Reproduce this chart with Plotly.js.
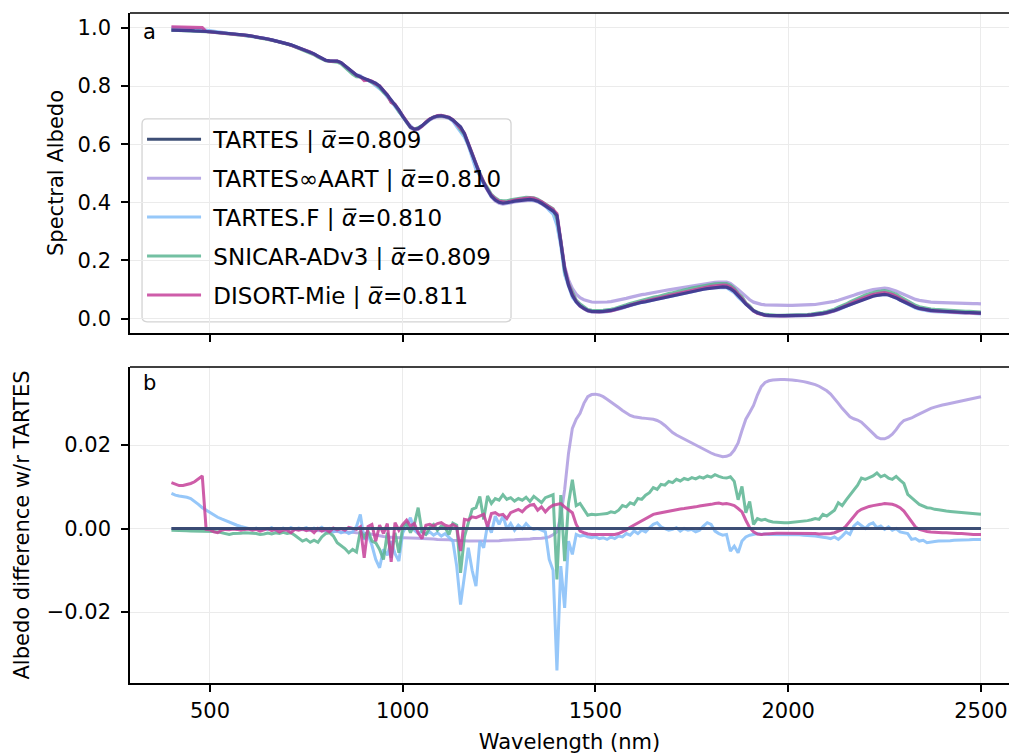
<!DOCTYPE html>
<html>
<head>
<meta charset="utf-8">
<script src="https://cdn.plot.ly/plotly-3.0.1.min.js"></script>
<style>html,body{margin:0;padding:0;background:#fff;}#chart{width:1009px;height:755px;}</style>
</head>
<body>
<div id="chart"></div>
<script>
// Wavelength grid (nm)
var wavelength = [
400,410,420,430,440,450,460,470,480,490,
500,510,520,530,540,550,560,570,580,590,
600,610,620,630,640,650,660,670,680,690,
700,710,720,730,740,750,760,770,780,790,
800,810,820,830,840,850,860,870,880,890,
900,910,920,930,940,950,960,970,980,990,
1000,1010,1020,1030,1040,1050,1060,1070,1080,1090,
1100,1110,1120,1130,1140,1150,1160,1170,1180,1190,
1200,1210,1220,1230,1240,1250,1260,1270,1280,1290,
1300,1310,1320,1330,1340,1350,1360,1370,1380,1390,
1400,1410,1420,1430,1440,1450,1460,1470,1480,1490,
1500,1510,1520,1530,1540,1550,1560,1570,1580,1590,
1600,1610,1620,1630,1640,1650,1660,1670,1680,1690,
1700,1710,1720,1730,1740,1750,1760,1770,1780,1790,
1800,1810,1820,1830,1840,1850,1860,1870,1880,1890,
1900,1910,1920,1930,1940,1950,1960,1970,1980,1990,
2000,2010,2020,2030,2040,2050,2060,2070,2080,2090,
2100,2110,2120,2130,2140,2150,2160,2170,2180,2190,
2200,2210,2220,2230,2240,2250,2260,2270,2280,2290,
2300,2310,2320,2330,2340,2350,2360,2370,2380,2390,
2400,2410,2420,2430,2440,2450,2460,2470,2480,2490,
2500];

// TARTES spectral albedo
var albedoTARTES = [
0.993,0.993,0.992,0.992,0.991,0.991,0.990,0.990,0.989,0.988,
0.987,0.986,0.985,0.984,0.983,0.982,0.980,0.979,0.977,0.976,
0.974,0.972,0.970,0.967,0.965,0.962,0.959,0.956,0.953,0.950,
0.946,0.942,0.937,0.932,0.927,0.923,0.918,0.911,0.903,0.895,
0.889,0.887,0.887,0.886,0.881,0.870,0.857,0.846,0.838,0.832,
0.826,0.821,0.816,0.810,0.800,0.786,0.769,0.752,0.736,0.718,
0.696,0.675,0.659,0.651,0.654,0.664,0.676,0.686,0.693,0.697,
0.698,0.696,0.692,0.683,0.670,0.660,0.636,0.601,0.563,0.527,
0.496,0.467,0.442,0.421,0.408,0.400,0.397,0.398,0.401,0.404,
0.406,0.408,0.410,0.410,0.408,0.404,0.397,0.389,0.380,0.370,
0.355,0.260,0.170,0.115,0.080,0.058,0.044,0.035,0.028,0.025,
0.024,0.024,0.025,0.026,0.028,0.031,0.034,0.038,0.042,0.046,
0.050,0.053,0.056,0.058,0.061,0.063,0.066,0.069,0.072,0.075,
0.078,0.081,0.084,0.087,0.090,0.093,0.096,0.099,0.101,0.103,
0.105,0.107,0.108,0.109,0.108,0.103,0.093,0.080,0.065,0.050,
0.037,0.027,0.020,0.015,0.012,0.011,0.010,0.010,0.010,0.010,
0.010,0.010,0.010,0.011,0.011,0.012,0.013,0.014,0.016,0.018,
0.021,0.024,0.028,0.033,0.038,0.043,0.049,0.054,0.059,0.064,
0.069,0.073,0.077,0.080,0.082,0.083,0.081,0.077,0.071,0.064,
0.057,0.050,0.044,0.039,0.035,0.032,0.030,0.028,0.027,0.026,
0.025,0.024,0.023,0.023,0.022,0.022,0.021,0.021,0.020,0.020,
0.019];

// Differences with respect to TARTES
var diffAART = [
0.0000,0.0000,0.0000,0.0000,0.0000,0.0000,0.0000,0.0000,0.0000,0.0000,
0.0000,0.0000,0.0000,0.0000,0.0000,0.0000,0.0000,0.0000,0.0000,0.0000,
0.0000,0.0000,0.0000,0.0000,0.0000,0.0000,0.0000,0.0000,0.0000,-0.0001,
-0.0001,-0.0001,-0.0002,-0.0002,-0.0003,-0.0003,-0.0004,-0.0004,-0.0005,-0.0005,
-0.0006,-0.0006,-0.0007,-0.0007,-0.0008,-0.0008,-0.0009,-0.0009,-0.0010,-0.0010,
-0.0011,-0.0012,-0.0014,-0.0016,-0.0018,-0.0019,-0.0020,-0.0021,-0.0021,-0.0022,
-0.0022,-0.0022,-0.0022,-0.0023,-0.0023,-0.0024,-0.0024,-0.0025,-0.0025,-0.0026,
-0.0026,-0.0027,-0.0027,-0.0028,-0.0028,-0.0029,-0.0029,-0.0030,-0.0030,-0.0030,
-0.0030,-0.0030,-0.0030,-0.0029,-0.0029,-0.0029,-0.0028,-0.0028,-0.0027,-0.0027,
-0.0026,-0.0026,-0.0025,-0.0025,-0.0024,-0.0024,-0.0023,-0.0022,-0.0020,-0.0015,
-0.0008,0.0030,0.0093,0.0180,0.0240,0.0262,0.0276,0.0300,0.0316,0.0321,
0.0322,0.0320,0.0316,0.0310,0.0304,0.0297,0.0290,0.0283,0.0276,0.0271,
0.0268,0.0266,0.0265,0.0264,0.0263,0.0262,0.0259,0.0254,0.0247,0.0238,
0.0230,0.0224,0.0219,0.0215,0.0210,0.0205,0.0200,0.0196,0.0191,0.0186,
0.0181,0.0177,0.0174,0.0172,0.0173,0.0177,0.0188,0.0205,0.0235,0.0262,
0.0278,0.0295,0.0320,0.0340,0.0350,0.0354,0.0356,0.0357,0.0357,0.0357,
0.0357,0.0356,0.0355,0.0354,0.0352,0.0350,0.0348,0.0345,0.0341,0.0336,
0.0330,0.0322,0.0312,0.0300,0.0288,0.0277,0.0268,0.0263,0.0260,0.0255,
0.0247,0.0237,0.0228,0.0219,0.0215,0.0215,0.0219,0.0226,0.0237,0.0250,
0.0259,0.0262,0.0265,0.0270,0.0275,0.0280,0.0284,0.0288,0.0291,0.0294,
0.0296,0.0298,0.0300,0.0302,0.0304,0.0306,0.0308,0.0310,0.0312,0.0314,
0.0316];

var diffTARTESF = [
0.0084,0.0080,0.0078,0.0077,0.0075,0.0072,0.0066,0.0058,0.0050,0.0044,
0.0038,0.0032,0.0027,0.0023,0.0019,0.0015,0.0011,0.0008,0.0005,0.0002,
0.0000,-0.0002,0.0001,-0.0003,0.0000,-0.0002,0.0002,-0.0004,-0.0001,0.0001,
-0.0003,0.0002,-0.0002,0.0001,-0.0001,0.0002,-0.0003,0.0001,-0.0002,0.0003,
-0.0004,0.0000,-0.0008,-0.0004,-0.0010,-0.0006,-0.0012,-0.0008,0.0005,0.0034,
-0.0026,-0.0015,-0.0040,-0.0074,-0.0094,-0.0050,-0.0064,-0.0030,-0.0060,-0.0078,
-0.0010,0.0010,0.0026,-0.0004,-0.0012,-0.0006,-0.0014,-0.0008,-0.0016,-0.0010,
-0.0018,-0.0012,-0.0020,-0.0030,-0.0090,-0.0182,-0.0114,-0.0046,-0.0100,-0.0138,
-0.0030,-0.0046,0.0010,-0.0010,0.0030,0.0010,0.0030,0.0000,0.0012,-0.0004,
0.0008,0.0000,0.0012,0.0002,-0.0002,0.0000,-0.0004,-0.0008,-0.0074,-0.0100,
-0.0340,-0.0090,-0.0190,-0.0030,-0.0062,-0.0014,-0.0018,-0.0016,-0.0020,-0.0022,
-0.0020,-0.0024,-0.0022,-0.0026,-0.0020,-0.0024,-0.0018,-0.0020,-0.0012,-0.0016,
-0.0006,-0.0012,-0.0004,-0.0008,0.0002,0.0010,0.0014,0.0004,0.0000,-0.0004,
-0.0002,0.0002,-0.0006,0.0000,-0.0004,-0.0002,-0.0008,-0.0004,0.0006,0.0014,
0.0010,-0.0006,-0.0012,-0.0016,-0.0014,-0.0054,-0.0042,-0.0058,-0.0030,-0.0020,
-0.0016,-0.0014,-0.0012,-0.0014,-0.0013,-0.0014,-0.0014,-0.0014,-0.0014,-0.0014,
-0.0014,-0.0015,-0.0015,-0.0015,-0.0016,-0.0016,-0.0017,-0.0018,-0.0020,-0.0021,
-0.0022,-0.0024,-0.0020,-0.0026,-0.0018,-0.0008,-0.0014,0.0006,0.0014,0.0006,
0.0000,0.0010,0.0014,0.0002,0.0006,-0.0002,0.0004,-0.0004,0.0000,-0.0008,
-0.0010,-0.0012,-0.0026,-0.0024,-0.0030,-0.0028,-0.0034,-0.0032,-0.0031,-0.0030,
-0.0030,-0.0029,-0.0029,-0.0028,-0.0028,-0.0028,-0.0027,-0.0027,-0.0026,-0.0026,
-0.0026];

var diffSNICAR = [
-0.0004,-0.0004,-0.0005,-0.0005,-0.0005,-0.0006,-0.0006,-0.0006,-0.0006,-0.0006,
-0.0006,-0.0007,-0.0008,-0.0010,-0.0013,-0.0014,-0.0012,-0.0012,-0.0011,-0.0010,
-0.0010,-0.0011,-0.0012,-0.0014,-0.0013,-0.0011,-0.0013,-0.0010,-0.0012,-0.0009,
-0.0012,-0.0010,-0.0016,-0.0022,-0.0030,-0.0026,-0.0033,-0.0028,-0.0033,-0.0020,
-0.0012,-0.0010,-0.0018,-0.0034,-0.0040,-0.0048,-0.0058,-0.0050,-0.0056,-0.0006,
-0.0020,-0.0006,-0.0030,-0.0034,-0.0050,-0.0074,-0.0010,-0.0070,-0.0010,-0.0058,
0.0004,0.0013,-0.0010,0.0010,0.0050,-0.0008,-0.0014,0.0002,0.0010,-0.0004,
0.0006,0.0002,-0.0014,0.0013,0.0008,-0.0106,-0.0020,0.0014,0.0046,0.0050,
0.0077,0.0022,0.0078,0.0060,0.0072,0.0068,0.0081,0.0070,0.0074,0.0066,
0.0072,0.0068,0.0075,0.0065,0.0077,0.0070,0.0062,0.0074,0.0077,0.0081,
-0.0122,0.0080,-0.0078,0.0060,0.0117,0.0055,0.0060,0.0045,0.0032,0.0034,
0.0033,0.0034,0.0035,0.0036,0.0040,0.0038,0.0044,0.0055,0.0052,0.0062,
0.0058,0.0072,0.0070,0.0080,0.0086,0.0098,0.0094,0.0106,0.0104,0.0113,
0.0110,0.0118,0.0114,0.0120,0.0117,0.0122,0.0119,0.0124,0.0121,0.0126,
0.0123,0.0129,0.0125,0.0122,0.0121,0.0124,0.0113,0.0069,0.0101,0.0038,
0.0065,0.0010,0.0024,0.0020,0.0022,0.0018,0.0016,0.0015,0.0014,0.0014,
0.0014,0.0015,0.0015,0.0016,0.0017,0.0019,0.0021,0.0024,0.0022,0.0034,
0.0030,0.0038,0.0044,0.0062,0.0055,0.0068,0.0080,0.0092,0.0104,0.0121,
0.0118,0.0122,0.0126,0.0133,0.0124,0.0128,0.0121,0.0118,0.0125,0.0116,
0.0108,0.0082,0.0075,0.0066,0.0058,0.0053,0.0050,0.0049,0.0046,0.0045,
0.0043,0.0042,0.0041,0.0040,0.0039,0.0039,0.0038,0.0037,0.0036,0.0035,
0.0034];

var diffDISORT = [
0.0110,0.0106,0.0103,0.0103,0.0105,0.0108,0.0112,0.0118,0.0126,-0.0002,
-0.0003,-0.0008,-0.0010,-0.0004,-0.0002,-0.0003,-0.0001,-0.0002,-0.0004,-0.0002,
-0.0001,-0.0004,-0.0002,-0.0006,-0.0003,0.0000,-0.0005,-0.0002,-0.0008,-0.0003,
-0.0004,-0.0010,-0.0002,-0.0004,-0.0001,-0.0005,-0.0002,-0.0010,0.0000,-0.0006,
-0.0002,-0.0008,0.0001,-0.0003,0.0000,-0.0004,0.0003,0.0000,-0.0002,0.0004,
-0.0070,0.0005,0.0010,-0.0030,0.0008,-0.0012,0.0012,-0.0080,0.0014,-0.0004,
0.0010,0.0020,0.0006,0.0012,-0.0010,-0.0024,0.0008,0.0010,0.0006,0.0012,
0.0014,0.0008,0.0005,0.0010,0.0004,-0.0054,0.0022,0.0020,0.0028,0.0026,
0.0030,0.0034,0.0004,0.0036,0.0038,0.0032,0.0034,0.0024,0.0038,0.0042,
0.0046,0.0040,0.0050,0.0056,0.0058,0.0044,0.0052,0.0040,0.0050,0.0056,
0.0058,0.0060,0.0052,0.0046,0.0038,0.0010,-0.0006,-0.0010,-0.0013,-0.0014,
-0.0014,-0.0014,-0.0014,-0.0014,-0.0014,-0.0014,-0.0012,-0.0008,-0.0003,0.0003,
0.0008,0.0013,0.0018,0.0024,0.0030,0.0034,0.0036,0.0038,0.0040,0.0041,
0.0043,0.0045,0.0047,0.0048,0.0049,0.0051,0.0052,0.0054,0.0055,0.0057,
0.0058,0.0060,0.0061,0.0059,0.0060,0.0058,0.0055,0.0048,0.0040,0.0020,
0.0002,-0.0008,-0.0013,-0.0014,-0.0013,-0.0012,-0.0012,-0.0011,-0.0011,-0.0011,
-0.0011,-0.0011,-0.0011,-0.0011,-0.0012,-0.0012,-0.0012,-0.0012,-0.0013,-0.0013,
-0.0013,-0.0012,-0.0010,-0.0006,-0.0002,0.0006,0.0018,0.0030,0.0040,0.0046,
0.0050,0.0053,0.0055,0.0056,0.0058,0.0060,0.0059,0.0058,0.0055,0.0050,
0.0042,0.0030,0.0016,0.0004,-0.0002,-0.0005,-0.0007,-0.0008,-0.0009,-0.0009,
-0.0010,-0.0010,-0.0011,-0.0011,-0.0012,-0.0012,-0.0013,-0.0013,-0.0014,-0.0014,
-0.0014];

var modelNames = ['TARTES', 'TARTES\u221EAART', 'TARTES.F', 'SNICAR-ADv3', 'DISORT-Mie'];
var meanAlbedo = ['0.809', '0.810', '0.810', '0.809', '0.811'];
var modelColors = ['#34466f', '#ad9be0', '#84bef8', '#5bb592', '#c6419a'];
// colour of the TARTES curve as it appears in panel a (blended with the curves beneath)
var topColors = ['#463e92', '#ad9be0', '#84bef8', '#5bb592', '#c6419a'];

var diffs = [
  albedoTARTES.map(function(v){ return v - v; }),
  diffAART, diffTARTESF, diffSNICAR, diffDISORT
];

function label(i) {
  return '\u00A0' + modelNames[i] + ' | <i>\u03B1\u0305</i>=' + meanAlbedo[i];
}

var traces = [];
var drawOrder = [1, 2, 3, 4, 0];
drawOrder.forEach(function(i) {
  var alb = albedoTARTES.map(function(a, k){ return a + diffs[i][k]; });
  traces.push({
    x: wavelength, y: alb, type: 'scatter', mode: 'lines',
    name: label(i), legendgroup: 'g' + i,
    line: {color: topColors[i], width: 3.2}, opacity: i === 0 ? 1 : 0.85,
    xaxis: 'x', yaxis: 'y', showlegend: false
  });
});
drawOrder.forEach(function(i) {
  traces.push({
    x: wavelength, y: diffs[i], type: 'scatter', mode: 'lines',
    name: label(i), legendgroup: 'g' + i, legendrank: i + 1,
    line: {color: modelColors[i], width: 3}, opacity: i === 0 ? 0.95 : 0.85,
    xaxis: 'x2', yaxis: 'y2', showlegend: true
  });
});

var font = {family: 'DejaVu Sans, sans-serif', size: 21, color: '#000'};
var axBase = {
  showline: true, linecolor: '#000', linewidth: 1.6, mirror: false,
  ticks: 'outside', ticklen: 7, tickwidth: 1.6, tickcolor: '#000',
  showgrid: true, gridcolor: '#ebebeb', gridwidth: 1.2,
  zeroline: false, tickfont: font, ticklabelstandoff: 6
};
function ax(extra) { return Object.assign({}, axBase, extra); }

var layout = {
  width: 1009, height: 755,
  margin: {l: 130, r: 0, t: 13, b: 72},
  paper_bgcolor: '#fff', plot_bgcolor: '#fff',
  font: font,
  showlegend: true,
  legend: {
    x: 0.0137, y: 0.8435, xanchor: 'left', yanchor: 'top',
    bgcolor: 'rgba(255,255,255,0)', bordercolor: '#cccccc', borderwidth: 0,
    font: {family: 'DejaVu Sans, sans-serif', size: 23, color: '#000'},
    tracegroupgap: 6, itemwidth: 54, traceorder: 'grouped'
  },
  xaxis: ax({domain: [0, 1], range: [292.5, 2572.7], anchor: 'y', matches: 'x2',
    showticklabels: false, tickvals: [500, 1000, 1500, 2000, 2500]}),
  yaxis: ax({domain: [0.5224, 1], range: [-0.0496, 1.0516], anchor: 'x',
    tickvals: [0, 0.2, 0.4, 0.6, 0.8, 1.0], tickformat: '.1f',
    title: {text: 'Spectral Albedo', font: font, standoff: 8}}),
  xaxis2: ax({domain: [0, 1], range: [292.5, 2572.7], anchor: 'y2',
    tickvals: [500, 1000, 1500, 2000, 2500], ticklabelstandoff: 1,
    title: {text: 'Wavelength (nm)', font: font, standoff: 12}}),
  yaxis2: ax({domain: [0, 0.4716], range: [-0.037, 0.0387], anchor: 'x2',
    tickvals: [-0.02, 0, 0.02], tickformat: '.2f',
    title: {text: 'Albedo difference w/r TARTES', font: font, standoff: 11}}),
  shapes: [
    {type: 'line', xref: 'paper', yref: 'paper', x0: 0, x1: 1, y0: 1, y1: 1, line: {color: '#000', width: 1.6}},
    {type: 'line', xref: 'paper', yref: 'paper', x0: 0, x1: 1, y0: 0.4716, y1: 0.4716, line: {color: '#000', width: 1.6}}
  ],
  annotations: [
    {text: 'a', xref: 'paper', yref: 'y domain', x: 0.0125, y: 0.94, xanchor: 'left', yanchor: 'middle', showarrow: false, font: font},
    {text: 'b', xref: 'paper', yref: 'y2 domain', x: 0.0125, y: 0.948, xanchor: 'left', yanchor: 'middle', showarrow: false, font: font}
  ]
};

Plotly.newPlot('chart', traces, layout, {displayModeBar: false, responsive: false}).then(function(gd) {
  // Legend frame drawn beneath the curves (as in the original figure), sized from the rendered legend
  var bg = gd.querySelector('.legend .bg');
  var svg = gd.querySelector('.main-svg');
  if (!bg || !svg) return;
  var r = bg.getBoundingClientRect();
  var s = svg.getBoundingClientRect();
  var fl = gd._fullLayout;
  var xa = fl.xaxis, ya = fl.yaxis;
  var left = r.left - s.left, right = r.right - s.left + 4;
  var top = r.top - s.top + 1, bottom = r.bottom - s.top + 5;
  var rad = 5;
  function X(p) { return xa.p2d(p - xa._offset); }
  function Y(p) { return ya.p2d(p - ya._offset); }
  var path = 'M' + X(left + rad) + ',' + Y(top) +
    ' L' + X(right - rad) + ',' + Y(top) +
    ' Q' + X(right) + ',' + Y(top) + ' ' + X(right) + ',' + Y(top + rad) +
    ' L' + X(right) + ',' + Y(bottom - rad) +
    ' Q' + X(right) + ',' + Y(bottom) + ' ' + X(right - rad) + ',' + Y(bottom) +
    ' L' + X(left + rad) + ',' + Y(bottom) +
    ' Q' + X(left) + ',' + Y(bottom) + ' ' + X(left) + ',' + Y(bottom - rad) +
    ' L' + X(left) + ',' + Y(top + rad) +
    ' Q' + X(left) + ',' + Y(top) + ' ' + X(left + rad) + ',' + Y(top) + ' Z';
  var shapes = (gd.layout.shapes || []).slice();
  shapes.push({type: 'path', xref: 'x', yref: 'y', path: path, layer: 'below',
    fillcolor: 'rgba(255,255,255,0.8)', line: {color: '#d4d4d4', width: 1.3}});
  return Plotly.relayout(gd, {shapes: shapes});
});
</script>
</body>
</html>
